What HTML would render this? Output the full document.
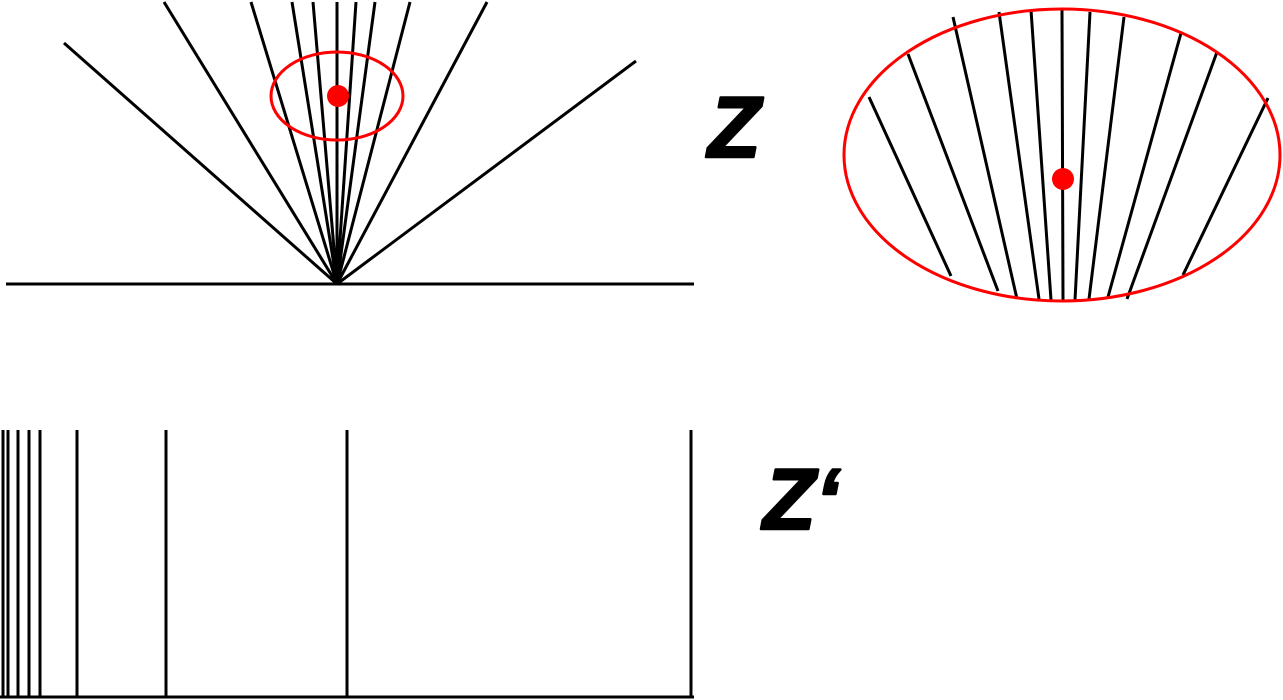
<!DOCTYPE html>
<html><head><meta charset="utf-8"><style>
html,body{margin:0;padding:0;background:#fff;width:1283px;height:700px;overflow:hidden}
svg{display:block}
text{font-family:"Liberation Sans",sans-serif;font-weight:bold;font-style:italic}
</style></head><body>
<svg id="fig" width="1283" height="700" viewBox="0 0 1283 700">
<line x1="6" y1="284" x2="694" y2="284" stroke="#000" stroke-width="3"/>
<g id="fan"></g>
<ellipse cx="337" cy="96" rx="66" ry="44" fill="none" stroke="#f00" stroke-width="3"/>
<circle cx="338" cy="96" r="11" fill="#f00"/>
<text x="708" y="157" font-size="86" stroke="#000" stroke-width="2.5" stroke-linejoin="round">Z</text>
<g id="zoom"></g>
<ellipse cx="1062" cy="155" rx="218" ry="146" fill="none" stroke="#f00" stroke-width="3"/>
<circle cx="1063" cy="179" r="11" fill="#f00"/>
<line x1="0" y1="697" x2="694" y2="697" stroke="#000" stroke-width="3"/>
<g id="bars"></g>
<text x="763" y="529" font-size="86" stroke="#000" stroke-width="2.5" stroke-linejoin="round">Z‘</text>
</svg>
<script>
const fanTopX=[64,164,251,292,313,337,356,375,410,487,636];
const fanTopY=[43,2,2,2,2,2,2,2,2,2,61];
const zoomTopX=[869,908,953,999,1031,1062,1090,1124,1181,1217,1268];
const zoomTopY=[97,54,17,12,10,10,12,17,33,52,98];
const zoomBotX=[951,998,1017,1039,1051,1063,1075,1089,1108,1127,1183];
const zoomBotY=[276,291,299,299,300,300,300,299,297,299,275];
const projX=[3,8,18,29,40,77,166,347,691];
const NS='http://www.w3.org/2000/svg';
function ln(g,x1,y1,x2,y2){const l=document.createElementNS(NS,'line');
l.setAttribute('x1',x1);l.setAttribute('y1',y1);l.setAttribute('x2',x2);l.setAttribute('y2',y2);
l.setAttribute('stroke','#000');l.setAttribute('stroke-width','3');


g.appendChild(l);}
const fan=document.getElementById('fan');
fanTopX.forEach((x,i)=>ln(fan,337,284,x,fanTopY[i]));
const zoom=document.getElementById('zoom');
zoomTopX.forEach((x,i)=>ln(zoom,x,zoomTopY[i],zoomBotX[i],zoomBotY[i]));
const bars=document.getElementById('bars');
projX.forEach(x=>ln(bars,x,430,x,697));
</script>
</body></html>
